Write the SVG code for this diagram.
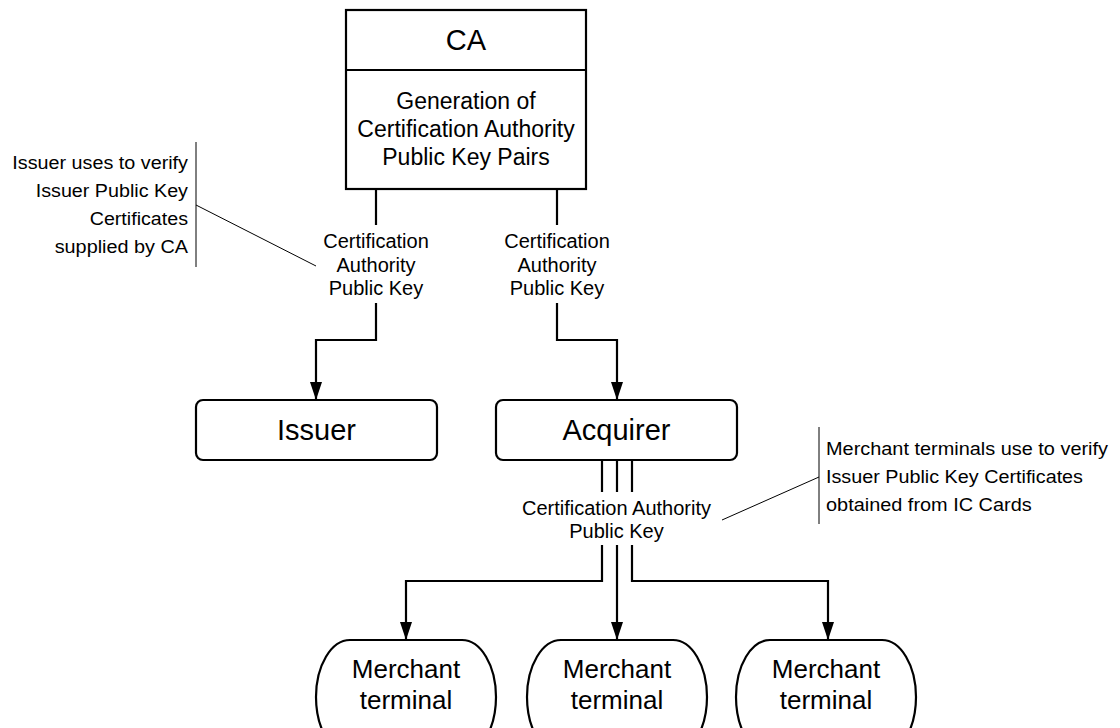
<svg xmlns="http://www.w3.org/2000/svg" width="1120" height="728" viewBox="0 0 1120 728">
<style>
.box{fill:#fff;stroke:#000;stroke-width:2.2}
.t{font-family:"Liberation Sans",Arial,sans-serif;fill:#000;text-anchor:middle}
.ann{font-family:"Liberation Sans",Arial,sans-serif;fill:#000;font-size:17.5px}
.c{fill:none;stroke:#000;stroke-width:2.2}
.thin{fill:none;stroke:#000;stroke-width:1}
</style>
<defs>
<marker id="arr" viewBox="0 0 18 12" refX="18" refY="6" markerWidth="18" markerHeight="12" markerUnits="userSpaceOnUse" orient="auto">
<path d="M0 0 L18 6 L0 12 z" fill="#000"/>
</marker>
</defs>
<rect width="1120" height="728" fill="#fff"/>

<g id="ca">
<rect class="box" x="346" y="10" width="240" height="179"/>
<line x1="346" y1="70" x2="586" y2="70" stroke="#000" stroke-width="2.2"/>
<text class="t" x="466" y="50" font-size="29">CA</text>
<text class="t" x="466" y="109" font-size="23">Generation of</text>
<text class="t" x="466" y="137" font-size="23">Certification Authority</text>
<text class="t" x="466" y="165" font-size="23">Public Key Pairs</text>
</g>

<g id="issuer">
<rect class="box" x="196" y="400" width="241" height="60" rx="7"/>
<text class="t" x="316.5" y="440" font-size="29">Issuer</text>
</g>

<g id="acquirer">
<rect class="box" x="496" y="400" width="241" height="60" rx="7"/>
<text class="t" x="616.5" y="440" font-size="29">Acquirer</text>
</g>

<g id="terminal1">
<rect class="box" x="316" y="640" width="180" height="114" rx="34" ry="57"/>
<text class="t" x="406" y="678" font-size="26">Merchant</text>
<text class="t" x="406" y="709" font-size="26">terminal</text>
</g>
<g id="terminal2">
<rect class="box" x="527" y="640" width="180" height="114" rx="34" ry="57"/>
<text class="t" x="617" y="678" font-size="26">Merchant</text>
<text class="t" x="617" y="709" font-size="26">terminal</text>
</g>
<g id="terminal3">
<rect class="box" x="736" y="640" width="180" height="114" rx="34" ry="57"/>
<text class="t" x="826" y="678" font-size="26">Merchant</text>
<text class="t" x="826" y="709" font-size="26">terminal</text>
</g>

<g id="connectors">
<path class="c" d="M376 189 V225"/>
<path class="c" d="M376 303 V340 H316 V400" marker-end="url(#arr)"/>
<path class="c" d="M557 189 V225"/>
<path class="c" d="M557 303 V340 H617 V400" marker-end="url(#arr)"/>
<path class="c" d="M602 460 V492 M617 460 V492 M632 460 V492"/>
<path class="c" d="M602 545 V581 H406 V640" marker-end="url(#arr)"/>
<path class="c" d="M617 545 V640" marker-end="url(#arr)"/>
<path class="c" d="M632 545 V581 H828 V640" marker-end="url(#arr)"/>
<text class="t" x="376" y="248" font-size="20">Certification</text>
<text class="t" x="376" y="272" font-size="20">Authority</text>
<text class="t" x="376" y="295" font-size="20">Public Key</text>
<text class="t" x="557" y="248" font-size="20">Certification</text>
<text class="t" x="557" y="272" font-size="20">Authority</text>
<text class="t" x="557" y="295" font-size="20">Public Key</text>
<text class="t" x="616.5" y="515" font-size="20">Certification Authority</text>
<text class="t" x="616.5" y="538" font-size="20">Public Key</text>
</g>

<g id="note-issuer">
<line class="thin" x1="196" y1="142" x2="196" y2="267"/>
<line class="thin" x1="196" y1="205" x2="316" y2="266"/>
<text class="ann" x="12.3" y="169" textLength="175.7" lengthAdjust="spacingAndGlyphs">Issuer uses to verify</text>
<text class="ann" x="35.7" y="197" textLength="152.3" lengthAdjust="spacingAndGlyphs">Issuer Public Key</text>
<text class="ann" x="89.7" y="225" textLength="98.3" lengthAdjust="spacingAndGlyphs">Certificates</text>
<text class="ann" x="54.7" y="253" textLength="133.3" lengthAdjust="spacingAndGlyphs">supplied by CA</text>
</g>

<g id="note-merchant">
<line class="thin" x1="819" y1="427" x2="819" y2="524"/>
<line class="thin" x1="722" y1="520" x2="819" y2="477"/>
<text class="ann" x="826" y="455" textLength="282" lengthAdjust="spacingAndGlyphs">Merchant terminals use to verify</text>
<text class="ann" x="826" y="483" textLength="257" lengthAdjust="spacingAndGlyphs">Issuer Public Key Certificates</text>
<text class="ann" x="826" y="511" textLength="205.7" lengthAdjust="spacingAndGlyphs">obtained from IC Cards</text>
</g>
</svg>
